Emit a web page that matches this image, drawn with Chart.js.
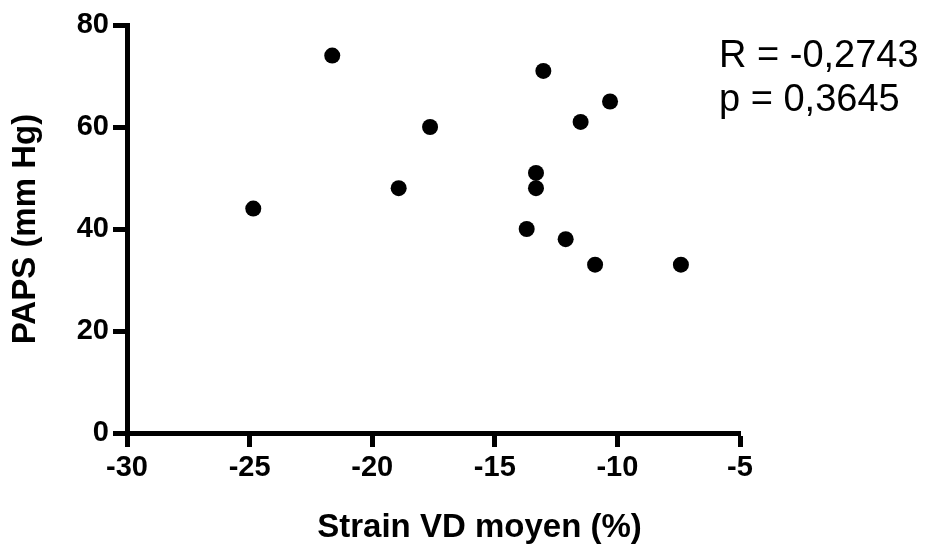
<!DOCTYPE html>
<html>
<head>
<meta charset="utf-8">
<script src="https://cdn.jsdelivr.net/npm/chart.js@4/dist/chart.umd.min.js"></script>
<style>
  html, body { margin: 0; padding: 0; background: #ffffff; }
  #wrap { width: 930px; height: 546px; }
</style>
</head>
<body>
<div id="wrap"><canvas id="c" width="930" height="546"></canvas></div>
<script>
// Mean RV strain (%) against systolic pulmonary artery pressure (mm Hg), one point per patient
const strainVD = [-24.85, -21.63, -18.92, -17.64, -13.70, -13.32, -13.32, -13.02, -12.11, -11.50, -10.91, -10.30, -7.41];
const paps     = [44, 74, 48, 60, 40, 51, 48, 71, 38, 61, 33, 65, 33];

const xTicks = [-30, -25, -20, -15, -10, -5];
const yTicks = [0, 20, 40, 60, 80];

const xTitle = 'Strain VD moyen (%)';
const yTitle = 'PAPS (mm Hg)';
const statLines = ['R = -0,2743', 'p = 0,3645'];

const points = strainVD.map((x, i) => ({ x: x, y: paps[i] }));

const FONT = '"Liberation Sans", Arial, Helvetica, sans-serif';

// Correlation statistics and x-axis title, written as text beside the plot
const textPlugin = {
  id: 'sideText',
  afterDraw(chart) {
    const ctx = chart.ctx;
    const area = chart.chartArea;
    ctx.save();
    ctx.fillStyle = '#000';
    ctx.textAlign = 'left';
    ctx.textBaseline = 'alphabetic';
    ctx.font = '38px ' + FONT;
    ctx.fillText(statLines[0], 719, 67);
    ctx.fillText(statLines[1], 719, 111);

    ctx.font = 'bold 33px ' + FONT;
    ctx.textAlign = 'center';
    ctx.fillText(xTitle, (area.left + area.right) / 2 + 46, 537);
    ctx.restore();
  }
};

new Chart(document.getElementById('c'), {
  type: 'scatter',
  data: {
    datasets: [{
      data: points,
      backgroundColor: '#000',
      borderWidth: 0,
      pointRadius: 8,
      pointHoverRadius: 8
    }]
  },
  options: {
    responsive: false,
    animation: false,
    events: [],
    layout: { padding: { left: 0, right: 190, top: 25, bottom: 0 } },
    plugins: {
      legend: { display: false },
      tooltip: { enabled: false }
    },
    scales: {
      x: {
        type: 'linear',
        min: -30,
        max: -5,
        afterBuildTicks(scale) { scale.ticks = xTicks.map(v => ({ value: v })); },
        afterFit(scale) { scale.height = 113; },
        border: { display: true, color: '#000', width: 5 },
        grid: { drawOnChartArea: false, color: '#000', tickLength: 14, tickWidth: 5 },
        ticks: {
          color: '#000',
          padding: 4,
          maxRotation: 0,
          font: { family: FONT, size: 29, weight: 'bold' }
        }
      },
      y: {
        type: 'linear',
        min: 0,
        max: 80,
        afterBuildTicks(scale) { scale.ticks = yTicks.map(v => ({ value: v })); },
        afterFit(scale) { scale.width = 127; },
        border: { display: true, color: '#000', width: 5 },
        grid: { drawOnChartArea: false, color: '#000', tickLength: 14, tickWidth: 5 },
        ticks: {
          color: '#000',
          padding: 4,
          font: { family: FONT, size: 29, weight: 'bold' }
        },
        title: {
          display: true,
          text: yTitle,
          color: '#000',
          padding: { top: 6, bottom: 0 },
          font: { family: FONT, size: 33, weight: 'bold' }
        }
      }
    }
  },
  plugins: [textPlugin]
});
</script>
</body>
</html>
